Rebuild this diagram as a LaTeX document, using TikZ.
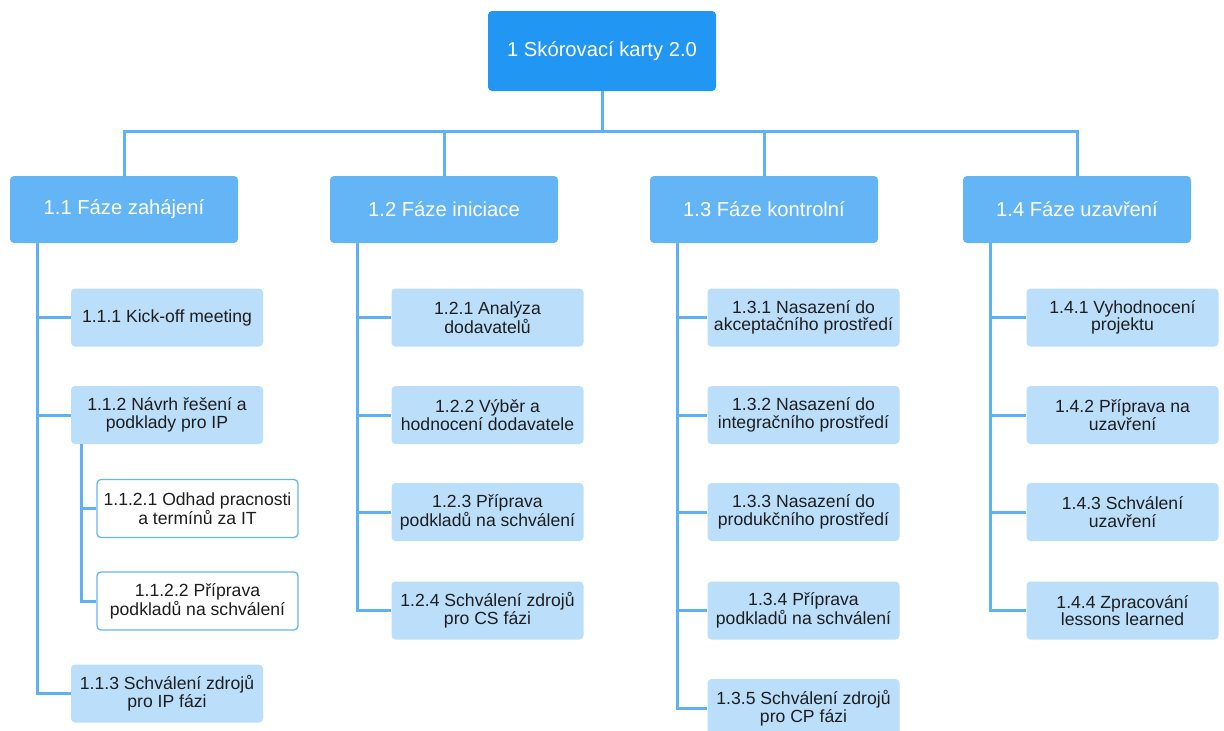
\documentclass[tikz,border=0pt]{standalone}
\usepackage{fontspec}
\setmainfont{Liberation Sans}
\definecolor{rootblue}{HTML}{2196F3}
\definecolor{phaseblue}{HTML}{64B5F6}
\definecolor{taskblue}{HTML}{BBDEFB}
\definecolor{linkblue}{HTML}{5EB1F5}
\definecolor{textdark}{HTML}{1E1E1E}
\tikzset{
  rootbox/.style={fill=rootblue, rounded corners=4pt, text=white, font=\fontsize{20.2}{22}\selectfont,
    minimum width=228pt, minimum height=80pt, inner sep=0pt, align=center},
  phasebox/.style={fill=phaseblue, rounded corners=4pt, text=white, font=\fontsize{20.2}{22}\selectfont,
    minimum width=228pt, minimum height=67pt, inner sep=0pt, align=center},
  taskbox/.style={fill=taskblue, rounded corners=4pt, text=textdark, font=\fontsize{17.6}{17.6}\selectfont,
    minimum width=192pt, minimum height=58pt, inner sep=0pt, align=center},
  subbox/.style={fill=white, draw=phaseblue, line width=1.3pt, rounded corners=4pt, text=textdark,
    font=\fontsize{17.6}{17.6}\selectfont, minimum width=201pt, minimum height=58pt, inner sep=0pt, align=center},
  link/.style={draw=linkblue, line width=3pt},
}
\begin{document}
\begin{tikzpicture}[x=1pt, y=-1pt]
\useasboundingbox (0,0) rectangle (1224,731);
\fill[white] (0,0) rectangle (1224,731);

% root and phases
\node[rootbox] (r) at (602,51) {1 Skórovací karty 2.0};
\node[phasebox] (p1) at (124,209.5) {1.1 Fáze zahájení};
\node[phasebox] (p2) at (444,209.5) {1.2 Fáze iniciace};
\node[phasebox] (p3) at (764,209.5) {1.3 Fáze kontrolní};
\node[phasebox] (p4) at (1077,209.5) {1.4 Fáze uzavření};

% phase 1.1
\node[taskbox] (t111) at (167,317.5) {1.1.1 Kick-off meeting};
\node[taskbox] (t112) at (167,415) {1.1.2 Návrh řešení a\\podklady pro IP};
\node[subbox] (t1121) at (197.5,508.5) {1.1.2.1 Odhad pracnosti\\a termínů za IT};
\node[subbox] (t1122) at (197.5,601) {1.1.2.2 Příprava\\podkladů na schválení};
\node[taskbox] (t113) at (167,693.5) {1.1.3 Schválení zdrojů\\pro IP fázi};

% phase 1.2
\node[taskbox] (t121) at (487.5,317.5) {1.2.1 Analýza\\dodavatelů};
\node[taskbox] (t122) at (487.5,415) {1.2.2 Výběr a\\hodnocení dodavatele};
\node[taskbox] (t123) at (487.5,512) {1.2.3 Příprava\\podkladů na schválení};
\node[taskbox] (t124) at (487.5,610.5) {1.2.4 Schválení zdrojů\\pro CS fázi};

% phase 1.3
\node[taskbox] (t131) at (803.5,317.5) {1.3.1 Nasazení do\\akceptačního prostředí};
\node[taskbox] (t132) at (803.5,415) {1.3.2 Nasazení do\\integračního prostředí};
\node[taskbox] (t133) at (803.5,512) {1.3.3 Nasazení do\\produkčního prostředí};
\node[taskbox] (t134) at (803.5,610.5) {1.3.4 Příprava\\podkladů na schválení};
\node[taskbox] (t135) at (803.5,708) {1.3.5 Schválení zdrojů\\pro CP fázi};

% phase 1.4
\node[taskbox] (t141) at (1122.5,317.5) {1.4.1 Vyhodnocení\\projektu};
\node[taskbox] (t142) at (1122.5,415) {1.4.2 Příprava na\\uzavření};
\node[taskbox] (t143) at (1122.5,512) {1.4.3 Schválení\\uzavření};
\node[taskbox] (t144) at (1122.5,610.5) {1.4.4 Zpracování\\lessons learned};

% root to phases
\coordinate (bar) at (602,131);
\draw[link] (r.south) -- (bar);
\draw[link, line cap=rect] (bar) -| (p1.north);
\draw[link] (bar) -| (p2.north);
\draw[link] (bar) -| (p3.north);
\draw[link, line cap=rect] (bar) -| (p4.north);

% spines of each phase
\coordinate (s1) at (37,243);
\coordinate (s2) at (357,243);
\coordinate (s3) at (677,243);
\coordinate (s4) at (990,243);
\coordinate (s12) at (81,444);

\draw[link] (s1) |- (t111.west);
\draw[link] (s1) |- (t112.west);
\draw[link] (s1) |- (t113.west);
\draw[link] (s12) |- (t1121.west);
\draw[link] (s12) |- (t1122.west);

\foreach \t in {t121,t122,t123,t124} \draw[link] (s2) |- (\t.west);
\foreach \t in {t131,t132,t133,t134,t135} \draw[link] (s3) |- (\t.west);
\foreach \t in {t141,t142,t143,t144} \draw[link] (s4) |- (\t.west);
\end{tikzpicture}
\end{document}
